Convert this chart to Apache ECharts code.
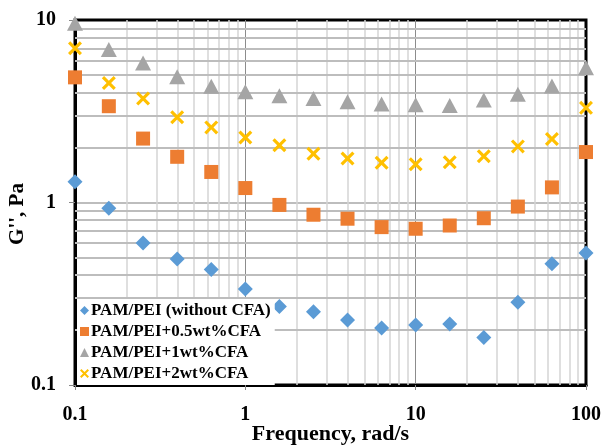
<!DOCTYPE html>
<html><head><meta charset="utf-8">
<script src="https://cdn.jsdelivr.net/npm/echarts@6/dist/echarts.min.js"></script>
<style>html,body{margin:0;padding:0;background:#fff}#c{width:604px;height:448px}</style>
</head><body><div id="c"></div>
<script>
var freq = [0.1, 0.158, 0.251, 0.398, 0.631, 1, 1.585, 2.512, 3.981, 6.31, 10, 15.85, 25.12, 39.81, 63.1, 100];
var seriesNames = ['PAM/PEI (without CFA)', 'PAM/PEI+0.5wt%CFA', 'PAM/PEI+1wt%CFA', 'PAM/PEI+2wt%CFA'];
var g0 = [1.30, 0.93, 0.60, 0.49, 0.43, 0.336, 0.269, 0.252, 0.227, 0.205, 0.213, 0.216, 0.182, 0.284, 0.461, 0.528];
var g05 = [4.85, 3.37, 2.24, 1.78, 1.47, 1.20, 0.97, 0.857, 0.815, 0.733, 0.718, 0.748, 0.82, 0.95, 1.21, 1.89];
var g1 = [9.6, 6.9, 5.82, 4.88, 4.33, 4.04, 3.85, 3.71, 3.57, 3.46, 3.43, 3.40, 3.65, 3.92, 4.35, 5.47];
var g2 = [7.0, 4.52, 3.71, 2.93, 2.58, 2.27, 2.06, 1.85, 1.74, 1.65, 1.62, 1.66, 1.79, 2.03, 2.23, 3.30];
var xMinorGrid = [0.2,0.3,0.4,0.5,0.6,0.7,0.8,0.9,2,3,4,5,6,7,8,9,20,30,40,50,60,70,80,90];
var yMinorGrid = [0.2,0.3,0.4,0.5,0.6,0.7,0.8,0.9,2,3,4,5,6,7,8,9];

var FONT = '"Liberation Serif","Times New Roman",serif';
var crossPath = 'path://M0,1.6 L1.6,0 L5,3.4 L8.4,0 L10,1.6 L6.6,5 L10,8.4 L8.4,10 L5,6.6 L1.6,10 L0,8.4 L3.4,5 Z';

function pairs(ys){ return freq.map(function(x,i){ return [x, ys[i]]; }); }

var chart = echarts.init(document.getElementById('c'), null, {renderer:'canvas'});
var option = {
  animation: false,
  backgroundColor: '#fff',
  grid: {left: 75, right: 18, top: 20, bottom: 63, show: true, borderColor: '#000', borderWidth: 3,
    outerBoundsMode: 'none', containLabel: false},
  xAxis: [{
    type: 'log', logBase: 10, min: 0.1, max: 100,
    axisLine: {show: true, onZero: false, lineStyle: {color: '#000', width: 3}},
    axisTick: {show: true, length: 5, lineStyle: {color: '#888'}},
    axisLabel: {color: '#000', fontFamily: FONT, fontWeight: 'bold', fontSize: 20, margin: 20,
      formatter: function(v){ return String(+v.toPrecision(3)); }},
    splitLine: {show: true, showMinLine: false, showMaxLine: false, lineStyle: {color: '#8c8c8c', width: 1}},
    name: 'Frequency, rad/s', nameLocation: 'middle', nameGap: 38, nameMoveOverlap: false,
    nameTextStyle: {color: '#000', fontFamily: FONT, fontWeight: 'bold', fontSize: 22}
  }],
  yAxis: [{
    type: 'log', logBase: 10, min: 0.1, max: 10,
    axisLine: {show: true, onZero: false, lineStyle: {color: '#000', width: 3}},
    axisTick: {show: true, length: 6, lineStyle: {color: '#888'}},
    axisLabel: {color: '#000', fontFamily: FONT, fontWeight: 'bold', fontSize: 20, margin: 19,
      formatter: function(v){ return String(+v.toPrecision(3)); }},
    splitLine: {show: true, showMinLine: false, showMaxLine: false, lineStyle: {color: '#bdbdbd', width: 2}}
  }],
  graphic: [{
    type: 'text', x: 18, y: 214, rotation: Math.PI / 2,
    style: {text: "G'', Pa", textAlign: 'center', textVerticalAlign: 'middle',
      font: 'bold 21px ' + FONT, fill: '#000'}
  }],
  legend: {
    orient: 'vertical', left: 77, top: 299, z: 10,
    backgroundColor: '#fff', padding: [3, 4, 3, 3], itemGap: 4,
    itemWidth: 9, itemHeight: 9,
    textStyle: {color: '#000', fontFamily: FONT, fontWeight: 'bold', fontSize: 17, padding: [0,0,0,-3]},
    data: [
      {name: seriesNames[0], icon: 'diamond'},
      {name: seriesNames[1], icon: 'rect'},
      {name: seriesNames[2], icon: 'triangle'},
      {name: seriesNames[3], icon: crossPath}
    ]
  },
  series: [
    {
      name: 'vgrid', type: 'scatter', data: [], silent: true, z: 1,
      markLine: {silent: true, z: 1, symbol: 'none', label: {show: false}, animation: false,
        lineStyle: {color: '#d4d4d4', width: 1.5, type: 'solid'},
        data: xMinorGrid.map(function(v){ return {xAxis: v}; })}
    },
    {
      name: 'hgrid', type: 'scatter', data: [], silent: true, z: 1,
      markLine: {silent: true, z: 1, symbol: 'none', label: {show: false}, animation: false,
        lineStyle: {color: '#bdbdbd', width: 2, type: 'solid'},
        data: yMinorGrid.map(function(v){ return {yAxis: v}; })}
    },
    {name: seriesNames[2], type: 'scatter', symbol: 'triangle', symbolSize: [16, 15], z: 6, clip: false,
      itemStyle: {color: '#a5a5a5', opacity: 1}, data: pairs(g1)},
    {name: seriesNames[3], type: 'scatter', symbol: crossPath, symbolSize: 14, z: 6, clip: false,
      itemStyle: {color: '#ffc000', opacity: 1}, data: pairs(g2)},
    {name: seriesNames[1], type: 'scatter', symbol: 'rect', symbolSize: 14, z: 6, clip: false,
      itemStyle: {color: '#ed7d31', opacity: 1}, data: pairs(g05)},
    {name: seriesNames[0], type: 'scatter', symbol: 'diamond', symbolSize: 15, z: 6, clip: false,
      itemStyle: {color: '#5b9bd5', opacity: 1}, data: pairs(g0)}
  ]
};
chart.setOption(option);
</script>
</body></html>
